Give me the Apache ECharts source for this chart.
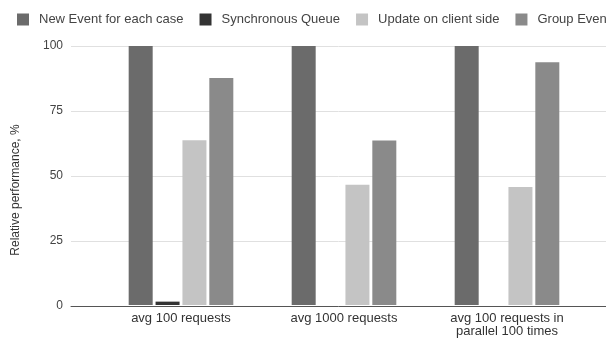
<!DOCTYPE html>
<html><head><meta charset="utf-8">
<script src="https://cdn.jsdelivr.net/npm/echarts@6/dist/echarts.min.js"></script>
<style>html,body{margin:0;padding:0;background:#fff}#c{width:606px;height:338px}</style>
</head><body><div id="c"></div>
<script>
const categories = ["avg 100 requests", "avg 1000 requests", "avg 100 requests in\nparallel 100 times"];
const seriesNames = ["New Event for each case", "Synchronous Queue", "Update on client side", "Group Events"];
const newEvent = [100, 100, 100];
const syncQueue = [1.3, 0, 0];
const clientSide = [63.6, 46.4, 45.6];
const groupEvents = [87.6, 63.5, 93.7];
const yTicks = [0, 25, 50, 75, 100];
const colors = ["#6b6b6b", "#333333", "#c4c4c4", "#8a8a8a"];
const values = [newEvent, syncQueue, clientSide, groupEvents];

const chart = echarts.init(document.getElementById('c'), null, {renderer: 'canvas'});
const font = "'Liberation Sans', Arial, sans-serif";
chart.setOption({
  animation: false,
  color: colors,
  textStyle: {fontFamily: font},
  legend: {
    left: 12, top: 8, width: 1200, itemWidth: 12, itemHeight: 12, itemGap: 16, icon: 'rect',
    textStyle: {fontSize: 13, color: '#444', fontFamily: font, padding: [0, 0, 0, 5]},
    data: seriesNames
  },
  graphic: [{
    type: 'text', rotation: Math.PI / 2,
    x: 16, y: 190,
    style: {text: 'Relative performance, %', font: "12px " + font, fill: '#333', align: 'center', verticalAlign: 'middle'}
  }],
  grid: [
    {left: 71, right: 0, top: 46, bottom: 32},
    {left: 99.5, width: 489, top: 46, bottom: 32}
  ],
  xAxis: [
    {gridIndex: 0, type: 'value', min: 0, max: 1, axisLine: {show: true, onZero: false, lineStyle: {color: '#555', width: 1}},
     axisTick: {show: false}, axisLabel: {show: false}, splitLine: {show: false}},
    {gridIndex: 1, type: 'category', data: categories, axisLine: {show: false}, axisTick: {show: false},
     axisLabel: {fontSize: 13, color: '#333', margin: 7, lineHeight: 13, fontFamily: font}}
  ],
  yAxis: [
    {gridIndex: 0, type: 'value', min: yTicks[0], max: yTicks[yTicks.length - 1], interval: 25,
     axisLine: {show: false}, axisTick: {show: false},
     axisLabel: {fontSize: 12, color: '#444', margin: 8, fontFamily: font},
     splitLine: {lineStyle: {color: '#e0e0e0', width: 1}}},
    {gridIndex: 1, type: 'value', min: 0, max: 100, show: false, splitLine: {show: false}}
  ],
  series: seriesNames.map((n, i) => ({
    name: n, type: 'bar', xAxisIndex: 1, yAxisIndex: 1, data: values[i],
    barWidth: 24, barGap: '12%', itemStyle: {color: colors[i]}
  }))
});
</script></body></html>
